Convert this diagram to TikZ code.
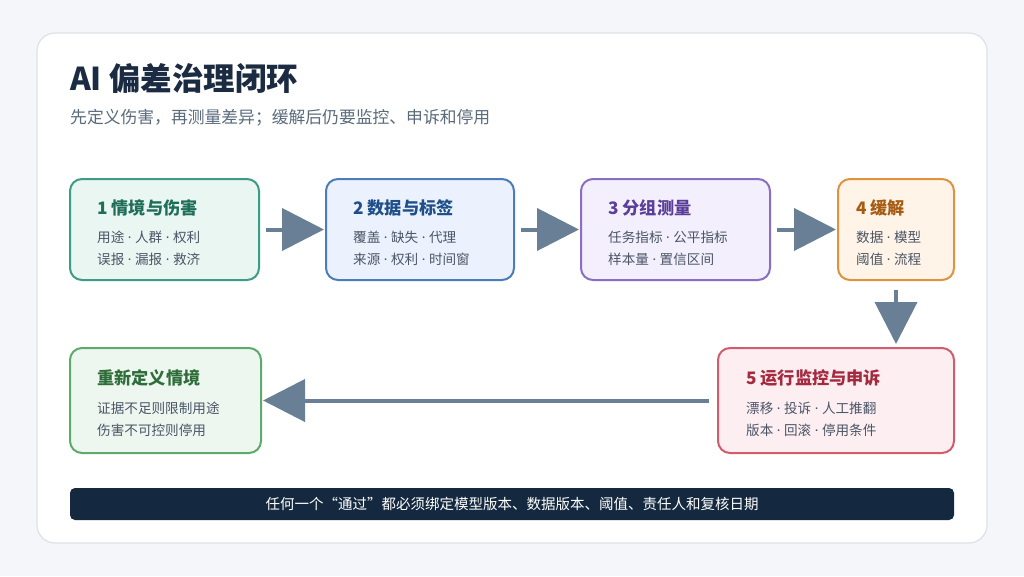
\documentclass[tikz,border=0pt]{standalone}
\usepackage{fontspec}
\setmainfont{Noto Sans CJK SC}
\newfontfamily\latinf{Noto Sans}
\usetikzlibrary{arrows.meta,positioning}
\definecolor{pagebg}{HTML}{F4F6F9}
\definecolor{cardline}{HTML}{DDE2E8}
\definecolor{titlec}{HTML}{1A2B42}
\definecolor{subc}{HTML}{5A6B7D}
\definecolor{bodyc}{HTML}{4A5566}
\definecolor{arrowc}{HTML}{687F95}
\definecolor{barc}{HTML}{14293F}
\definecolor{gA}{HTML}{3E9C84}\definecolor{gAf}{HTML}{E9F6F1}\definecolor{gAt}{HTML}{1F6E5A}
\definecolor{bA}{HTML}{4C7DBA}\definecolor{bAf}{HTML}{EBF2FD}\definecolor{bAt}{HTML}{1F4F8A}
\definecolor{pA}{HTML}{8A6EC2}\definecolor{pAf}{HTML}{F3EFFD}\definecolor{pAt}{HTML}{5A3E99}
\definecolor{oA}{HTML}{E0923E}\definecolor{oAf}{HTML}{FFF4E7}\definecolor{oAt}{HTML}{A65C14}
\definecolor{rA}{HTML}{D05C6C}\definecolor{rAf}{HTML}{FDEEF1}\definecolor{rAt}{HTML}{A52A3F}
\definecolor{lA}{HTML}{5CAA6C}\definecolor{lAf}{HTML}{EEF7EF}\definecolor{lAt}{HTML}{2F6E3A}
\newcommand\sepdot{{\latinf\ ·\ }}
\tikzset{
  stagebox/.style={draw, line width=2pt, rounded corners=12pt, inner sep=0pt},
  boxtitle/.style={anchor=west, font=\fontsize{17.2}{20}\selectfont\bfseries, inner sep=0pt},
  boxbody/.style={anchor=west, font=\fontsize{13.6}{16}\selectfont, text=bodyc, inner sep=0pt},
  flow/.style={draw=arrowc, line width=4pt, -{Triangle[width=42pt,length=42pt]}},
}
\begin{document}
\begin{tikzpicture}[x=1pt,y=-1pt]
\useasboundingbox (0,0) rectangle (1024,576);
\fill[pagebg] (0,0) rectangle (1024,576);
\filldraw[fill=white, draw=cardline, line width=1.2pt, rounded corners=18pt] (37,33) rectangle (987,543);
\node[anchor=west, inner sep=0pt, text=titlec, font=\fontsize{31.5}{36}\selectfont\bfseries] (title) at (70,78) {AI 偏差治理闭环};
\node[anchor=west, inner sep=0pt, text=subc, font=\fontsize{16.8}{20}\selectfont] (sub) at (70,118) {先定义伤害，再测量差异；缓解后仍要监控、申诉和停用};
% boxes
\node[stagebox, draw=gA, fill=gAf, minimum width=189pt, minimum height=101pt] (b1) at (164.5,229.5) {};
\node[stagebox, draw=bA, fill=bAf, minimum width=188pt, minimum height=101pt] (b2) at (420,229.5) {};
\node[stagebox, draw=pA, fill=pAf, minimum width=189pt, minimum height=101pt] (b3) at (675.5,229.5) {};
\node[stagebox, draw=oA, fill=oAf, minimum width=116pt, minimum height=101pt] (b4) at (896,229.5) {};
\node[stagebox, draw=rA, fill=rAf, minimum width=236pt, minimum height=105pt] (b5) at (836,400.5) {};
\node[stagebox, draw=lA, fill=lAf, minimum width=191pt, minimum height=105pt] (b6) at (165.5,400.5) {};
% texts
\node[boxtitle, text=gAt] (t1) at (97,208) {1 情境与伤害};
\node[boxbody] (l1a) at (97,237) {用途\sepdot 人群\sepdot 权利};
\node[boxbody] (l1b) at (97,259) {误报\sepdot 漏报\sepdot 救济};
\node[boxtitle, text=bAt] (t2) at (353,208) {2 数据与标签};
\node[boxbody] (l2a) at (353,237) {覆盖\sepdot 缺失\sepdot 代理};
\node[boxbody] (l2b) at (353,259) {来源\sepdot 权利\sepdot 时间窗};
\node[boxtitle, text=pAt] (t3) at (608,208) {3 分组测量};
\node[boxbody] (l3a) at (608,237) {任务指标\sepdot 公平指标};
\node[boxbody] (l3b) at (608,259) {样本量\sepdot 置信区间};
\node[boxtitle, text=oAt] (t4) at (856,208) {4 缓解};
\node[boxbody] (l4a) at (856,237) {数据\sepdot 模型};
\node[boxbody] (l4b) at (856,259) {阈值\sepdot 流程};
\node[boxtitle, text=rAt] (t5) at (746,378) {5 运行监控与申诉};
\node[boxbody] (l5a) at (746,408) {漂移\sepdot 投诉\sepdot 人工推翻};
\node[boxbody] (l5b) at (746,430) {版本\sepdot 回滚\sepdot 停用条件};
\node[boxtitle, text=lAt] (t6) at (97,378) {重新定义情境};
\node[boxbody] (l6a) at (97,408) {证据不足则限制用途};
\node[boxbody] (l6b) at (97,430) {伤害不可控则停用};
% arrows
\draw[flow] ([xshift=6pt]b1.east) -- ([xshift=-1pt]b2.west);
\draw[flow] ([xshift=6pt]b2.east) -- ([xshift=-1pt]b3.west);
\draw[flow] ([xshift=6pt]b3.east) -- ([xshift=-1pt]b4.west);
\draw[flow] ([yshift=-9pt]b4.south) -- ([yshift=3pt]b4.south |- b5.north);
\draw[flow] ([xshift=-8pt]b5.west) -- ([xshift=1pt]b6.east);
% bottom bar
\node[fill=barc, rounded corners=5pt, minimum width=884pt, minimum height=32pt, inner sep=0pt, text=white, font=\fontsize{14.5}{17}\selectfont] (bar) at (512,504) {任何一个“通过”都必须绑定模型版本、数据版本、阈值、责任人和复核日期};
\end{tikzpicture}
\end{document}
